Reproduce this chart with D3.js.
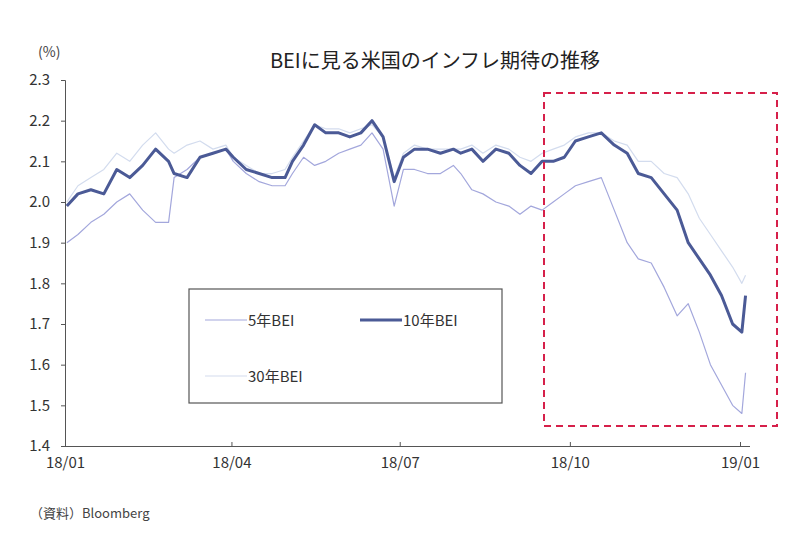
<!DOCTYPE html>
<html><head><meta charset="utf-8">
<script src="https://cdn.jsdelivr.net/npm/d3@7"></script>
<style>body{margin:0;background:#fff}text{font-family:"Noto Sans CJK JP",sans-serif}</style>
</head><body><svg id="c" width="800" height="535"></svg>
<script>
const dates = ["2018-01-02","2018-01-08","2018-01-15","2018-01-22","2018-01-29",
  "2018-02-05","2018-02-12","2018-02-19","2018-02-26",
  "2018-03-01","2018-03-08","2018-03-15","2018-03-22","2018-03-29",
  "2018-04-02","2018-04-09","2018-04-16","2018-04-23","2018-04-30",
  "2018-05-04","2018-05-10","2018-05-16","2018-05-22","2018-05-29",
  "2018-06-04","2018-06-10","2018-06-16","2018-06-22","2018-06-28",
  "2018-07-03","2018-07-09","2018-07-16","2018-07-23","2018-07-30",
  "2018-08-03","2018-08-09","2018-08-15","2018-08-22","2018-08-29",
  "2018-09-04","2018-09-10","2018-09-16","2018-09-22","2018-09-28",
  "2018-10-04","2018-10-11","2018-10-18","2018-10-25",
  "2018-11-01","2018-11-07","2018-11-14","2018-11-21","2018-11-28",
  "2018-12-04","2018-12-10","2018-12-16","2018-12-22","2018-12-28",
  "2019-01-02","2019-01-04"];
const bei5 = [1.90,1.92,1.95,1.97,2.00, 2.02,1.98,1.95,1.95, 2.06,2.08,2.11,2.12,2.13,
  2.10,2.07,2.05,2.04,2.04, 2.07,2.11,2.09,2.10,2.12, 2.13,2.14,2.17,2.13,1.99,
  2.08,2.08,2.07,2.07,2.09, 2.07,2.03,2.02,2.00,1.99, 1.97,1.99,1.98,2.00,2.02,
  2.04,2.05,2.06,1.98, 1.90,1.86,1.85,1.79,1.72, 1.75,1.68,1.60,1.55,1.50, 1.48,1.58];
const bei10 = [1.99,2.02,2.03,2.02,2.08, 2.06,2.09,2.13,2.10, 2.07,2.06,2.11,2.12,2.13,
  2.11,2.08,2.07,2.06,2.06, 2.10,2.14,2.19,2.17,2.17, 2.16,2.17,2.20,2.16,2.05,
  2.11,2.13,2.13,2.12,2.13, 2.12,2.13,2.10,2.13,2.12, 2.09,2.07,2.10,2.10,2.11,
  2.15,2.16,2.17,2.14, 2.12,2.07,2.06,2.02,1.98, 1.90,1.86,1.82,1.77,1.70, 1.68,1.77];
const bei30 = [2.00,2.04,2.06,2.08,2.12, 2.10,2.14,2.17,2.13, 2.12,2.14,2.15,2.13,2.14,
  2.11,2.09,2.07,2.07,2.08, 2.11,2.15,2.19,2.18,2.18, 2.17,2.18,2.19,2.16,2.06,
  2.12,2.14,2.13,2.13,2.13, 2.13,2.14,2.12,2.14,2.13, 2.11,2.10,2.12,2.13,2.14,
  2.16,2.17,2.17,2.15, 2.14,2.10,2.10,2.07,2.06, 2.02,1.96,1.92,1.88,1.84, 1.80,1.82];
const yTicks = [1.4,1.5,1.6,1.7,1.8,1.9,2.0,2.1,2.2,2.3];
const xTicks = ["2018-01-01","2018-04-01","2018-07-01","2018-10-01","2019-01-01"];
const series = [
  {name:"5年BEI", values:bei5, color:"#a3a7dc", width:1.2},
  {name:"30年BEI", values:bei30, color:"#d3dcee", width:1.2},
  {name:"10年BEI", values:bei10, color:"#4b5a96", width:3}
];

const parse = d3.timeParse("%Y-%m-%d");
const svg = d3.select("#c");
const x = d3.scaleTime().domain([parse("2018-01-01"), parse("2019-01-01")]).range([65, 740]);
const y = d3.scaleLinear().domain([1.4, 2.3]).range([446, 80]);

svg.append("g").attr("transform","translate(0,446)")
  .call(d3.axisBottom(x).tickValues(xTicks.map(parse)).tickFormat(d3.timeFormat("%y/%m")).tickSize(-4).tickSizeOuter(0))
  .call(g => { g.select(".domain").attr("stroke","#555").attr("d","M65,0.5H750");
    g.selectAll("text").attr("dy","1.25em").attr("font-size",15).attr("fill","#333"); g.selectAll("line").attr("stroke","#555"); });
svg.append("g").attr("transform","translate(65,0)")
  .call(d3.axisLeft(y).tickValues(yTicks).tickFormat(d3.format(".1f")).tickSize(4).tickSizeOuter(4))
  .call(g => { g.select(".domain").attr("stroke","#555"); g.selectAll("line").attr("stroke","#555");
    g.selectAll("text").attr("x",-15).attr("font-size",15).attr("fill","#333"); });

const line = d3.line().x((d,i) => x(parse(dates[i]))).y(d => y(d));
series.forEach(s => svg.append("path").attr("d", line(s.values)).attr("fill","none")
  .attr("stroke", s.color).attr("stroke-width", s.width).attr("stroke-linejoin","round"));

// legend
svg.append("rect").attr("x",189).attr("y",289).attr("width",313).attr("height",114)
  .attr("fill","#fff").attr("stroke","#555").attr("stroke-width",1.2);
const leg = [[series[0],205,320],[series[2],360,320],[series[1],205,376]];
leg.forEach(([s,lx,ly]) => {
  svg.append("line").attr("x1",lx).attr("x2",lx+42).attr("y1",ly).attr("y2",ly)
    .attr("stroke",s.color).attr("stroke-width",s.width);
  svg.append("text").attr("x",lx+43).attr("y",ly+6).attr("font-size",15).attr("fill","#333").text(s.name);
});

// highlight box
svg.append("rect").attr("x",544).attr("y",93).attr("width",233).attr("height",333)
  .attr("fill","none").attr("stroke","#d6204a").attr("stroke-width",2).attr("stroke-dasharray","7,5");

svg.append("text").attr("x",435).attr("y",68).attr("text-anchor","middle").attr("font-size",20).attr("fill","#222").text("BEIに見る米国のインフレ期待の推移");
svg.append("text").attr("x",38).attr("y",57).attr("font-size",14).attr("fill","#444").text("(%)");
svg.append("text").attr("x",30).attr("y",518).attr("font-size",13).attr("fill","#444").text("（資料）Bloomberg");
</script></body></html>
